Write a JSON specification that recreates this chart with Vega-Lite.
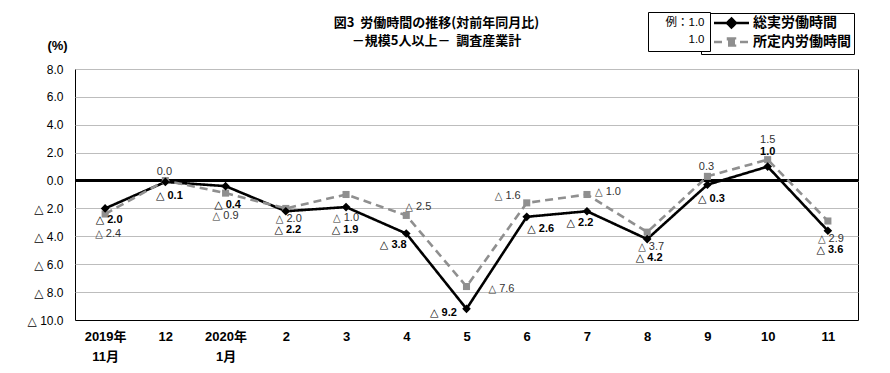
{
  "$schema": "https://vega.github.io/schema/vega-lite/v6.json",
  "autosize": {"type": "none"},
  "width": 783,
  "height": 251,
  "padding": {"left": 75, "top": 69, "right": 32, "bottom": 53},
  "background": "white",
  "title": {
    "text": ["図3\u00a0\u00a0労働時間の推移(対前年同月比)", "－規模5人以上－\u00a0\u00a0調査産業計"],
    "font": "Noto Sans CJK JP",
    "fontSize": 13,
    "fontWeight": "bold",
    "color": "#000",
    "anchor": "middle",
    "frame": "group",
    "dx": -30,
    "dy": 58,
    "offset": 22,
    "lineHeight": 18
  },
  "config": {
    "view": {"stroke": "#000", "strokeWidth": 1}
  },
  "data": {
    "values": [
      {"m": "2019年 11月", "s": "総実労働時間", "v": -2.0},
      {"m": "12", "s": "総実労働時間", "v": -0.1},
      {"m": "2020年 1月", "s": "総実労働時間", "v": -0.4},
      {"m": "2", "s": "総実労働時間", "v": -2.2},
      {"m": "3", "s": "総実労働時間", "v": -1.9},
      {"m": "4", "s": "総実労働時間", "v": -3.8},
      {"m": "5", "s": "総実労働時間", "v": -9.2},
      {"m": "6", "s": "総実労働時間", "v": -2.6},
      {"m": "7", "s": "総実労働時間", "v": -2.2},
      {"m": "8", "s": "総実労働時間", "v": -4.2},
      {"m": "9", "s": "総実労働時間", "v": -0.3},
      {"m": "10", "s": "総実労働時間", "v": 1.0},
      {"m": "11", "s": "総実労働時間", "v": -3.6},
      {"m": "2019年 11月", "s": "所定内労働時間", "v": -2.4},
      {"m": "12", "s": "所定内労働時間", "v": 0.0},
      {"m": "2020年 1月", "s": "所定内労働時間", "v": -0.9},
      {"m": "2", "s": "所定内労働時間", "v": -2.0},
      {"m": "3", "s": "所定内労働時間", "v": -1.0},
      {"m": "4", "s": "所定内労働時間", "v": -2.5},
      {"m": "5", "s": "所定内労働時間", "v": -7.6},
      {"m": "6", "s": "所定内労働時間", "v": -1.6},
      {"m": "7", "s": "所定内労働時間", "v": -1.0},
      {"m": "8", "s": "所定内労働時間", "v": -3.7},
      {"m": "9", "s": "所定内労働時間", "v": 0.3},
      {"m": "10", "s": "所定内労働時間", "v": 1.5},
      {"m": "11", "s": "所定内労働時間", "v": -2.9}
    ]
  },
  "transform": [
    {"calculate": "datum.v < 0 ? '△ ' + format(-datum.v, '.1f') : format(datum.v, '.1f')", "as": "t"}
  ],
  "layer": [
    {
      "mark": {"type": "rule", "color": "#000", "strokeWidth": 1.5},
      "encoding": {
        "y": {
          "datum": 0, "type": "quantitative", "title": "(%)",
          "scale": {"domain": [-10, 8], "nice": false, "zero": false},
          "axis": {
            "values": [-10, -8, -6, -4, -2, 0, 2, 4, 6, 8],
            "labelExpr": "datum.value < 0 ? '△ ' + format(-datum.value, '.1f') : format(datum.value, '.1f')",
            "grid": true, "gridColor": "#bdbdbd", "gridWidth": 1,
            "ticks": false, "domain": false,
            "labelPadding": 12, "labelFont": "Liberation Sans, DejaVu Sans", "labelFontSize": 12, "labelColor": "#000",
            "titleAngle": 0, "titleX": -18, "titleY": -24, "titleAlign": "center", "titleBaseline": "middle",
            "titleFont": "Liberation Sans", "titleFontSize": 13, "titleFontWeight": "bold", "titleColor": "#000"
          }
        }
      }
    },
    {
      "encoding": {
        "x": {
          "field": "m", "type": "ordinal", "title": null,
          "scale": {"domain": ["2019年 11月", "12", "2020年 1月", "2", "3", "4", "5", "6", "7", "8", "9", "10", "11"]},
          "axis": {
            "labelAngle": 0, "ticks": false, "domain": true, "domainColor": "#000", "domainWidth": 1.2,
            "grid": false,
            "labelExpr": "split(datum.value, ' ')",
            "labelFont": "Liberation Sans, Noto Sans CJK JP", "labelFontSize": 13, "labelFontWeight": "bold",
            "labelColor": "#000", "labelPadding": 10, "labelBaseline": "top", "labelLineHeight": 20
          }
        },
        "y": {
          "field": "v", "type": "quantitative", "title": "(%)",
          "scale": {"domain": [-10, 8], "nice": false, "zero": false},
          "axis": {
            "values": [-10, -8, -6, -4, -2, 0, 2, 4, 6, 8],
            "labelExpr": "datum.value < 0 ? '△ ' + format(-datum.value, '.1f') : format(datum.value, '.1f')",
            "grid": true, "gridColor": "#bdbdbd", "gridWidth": 1,
            "ticks": false, "domain": false,
            "labelPadding": 12, "labelFont": "Liberation Sans, DejaVu Sans", "labelFontSize": 12, "labelColor": "#000",
            "titleAngle": 0, "titleX": -18, "titleY": -24, "titleAlign": "center", "titleBaseline": "middle",
            "titleFont": "Liberation Sans", "titleFontSize": 13, "titleFontWeight": "bold", "titleColor": "#000"
          }
        }
      },
      "layer": [
        {
          "mark": {"type": "line", "strokeWidth": 2.6},
          "encoding": {
            "color": {
              "field": "s", "type": "nominal",
              "scale": {"domain": ["総実労働時間", "所定内労働時間"], "range": ["#000000", "#8f8f8f"]},
              "legend": {
                "orient": "none", "legendX": 626, "legendY": -56, "title": null,
                "strokeColor": "#000", "fillColor": "#fff", "padding": 3, "rowPadding": 0,
                "labelFont": "Noto Sans CJK JP", "labelFontSize": 14, "labelFontWeight": "bold", "labelColor": "#000",
                "symbolSize": 100, "labelOffset": 35,
                "encode": {
                  "symbols": {
                    "update": {
                      "shape": {"signal": "datum.value === '総実労働時間' ? 'M0.6,0H7.6M4.1,-0.9L5,0L4.1,0.9L3.2,0Z' : 'M0.6,0H2.4M5.8,0H7.6M3.4,-0.7H4.8V0.7H3.4Z'"},
                      "fill": {"signal": "datum.value === '総実労働時間' ? '#000' : '#8f8f8f'"},
                      "stroke": {"signal": "datum.value === '総実労働時間' ? '#000' : '#8f8f8f'"},
                      "strokeWidth": {"value": 2.5},
                      "opacity": {"value": 1}
                    }
                  }
                }
              }
            },
            "strokeDash": {
              "field": "s", "type": "nominal",
              "scale": {"domain": ["総実労働時間", "所定内労働時間"], "range": [[1, 0], [8, 5]]},
              "legend": null
            }
          }
        },
        {
          "transform": [{"filter": "datum.s === '所定内労働時間'"}],
          "mark": {"type": "point", "shape": "square", "filled": true, "size": 50, "color": "#8f8f8f", "opacity": 1}
        },
        {
          "transform": [{"filter": "datum.s === '総実労働時間'"}],
          "mark": {"type": "point", "shape": "diamond", "filled": true, "size": 75, "color": "#000", "opacity": 1}
        },
        {
          "transform": [{"filter": "datum.s === '総実労働時間' && datum.m === '2019年 11月'"}],
          "mark": {"type": "text", "font": "Liberation Sans, DejaVu Sans", "fontSize": 11, "fontWeight": "bold", "color": "#000", "dx": 4, "dy": 12},
          "encoding": {"text": {"field": "t"}}
        },
        {
          "transform": [{"filter": "datum.s === '総実労働時間' && indexof(['12','9'], datum.m) >= 0"}],
          "mark": {"type": "text", "font": "Liberation Sans, DejaVu Sans", "fontSize": 11, "fontWeight": "bold", "color": "#000", "dx": 4, "dy": 14},
          "encoding": {"text": {"field": "t"}}
        },
        {
          "transform": [{"filter": "datum.s === '総実労働時間' && indexof(['2020年 1月','2','8','11'], datum.m) >= 0"}],
          "mark": {"type": "text", "font": "Liberation Sans, DejaVu Sans", "fontSize": 11, "fontWeight": "bold", "color": "#000", "dx": 2, "dy": 19},
          "encoding": {"text": {"field": "t"}}
        },
        {
          "transform": [{"filter": "datum.s === '総実労働時間' && datum.m === '3'"}],
          "mark": {"type": "text", "font": "Liberation Sans, DejaVu Sans", "fontSize": 11, "fontWeight": "bold", "color": "#000", "dx": -1, "dy": 23},
          "encoding": {"text": {"field": "t"}}
        },
        {
          "transform": [{"filter": "datum.s === '総実労働時間' && datum.m === '10'"}],
          "mark": {"type": "text", "font": "Liberation Sans, DejaVu Sans", "fontSize": 11, "fontWeight": "bold", "color": "#000", "dx": 0, "dy": -15},
          "encoding": {"text": {"field": "t"}}
        },
        {
          "transform": [{"filter": "datum.s === '総実労働時間' && datum.m === '4'"}],
          "mark": {"type": "text", "font": "Liberation Sans, DejaVu Sans", "fontSize": 11, "fontWeight": "bold", "color": "#000", "dx": -13, "dy": 11},
          "encoding": {"text": {"field": "t"}}
        },
        {
          "transform": [{"filter": "datum.s === '総実労働時間' && datum.m === '5'"}],
          "mark": {"type": "text", "font": "Liberation Sans, DejaVu Sans", "fontSize": 11, "fontWeight": "bold", "color": "#000", "dx": -23, "dy": 4},
          "encoding": {"text": {"field": "t"}}
        },
        {
          "transform": [{"filter": "datum.s === '総実労働時間' && datum.m === '6'"}],
          "mark": {"type": "text", "font": "Liberation Sans, DejaVu Sans", "fontSize": 11, "fontWeight": "bold", "color": "#000", "dx": 14, "dy": 12},
          "encoding": {"text": {"field": "t"}}
        },
        {
          "transform": [{"filter": "datum.s === '総実労働時間' && datum.m === '7'"}],
          "mark": {"type": "text", "font": "Liberation Sans, DejaVu Sans", "fontSize": 11, "fontWeight": "bold", "color": "#000", "dx": -7, "dy": 12},
          "encoding": {"text": {"field": "t"}}
        },
        {
          "transform": [{"filter": "datum.s === '所定内労働時間' && datum.m === '2019年 11月'"}],
          "mark": {"type": "text", "font": "Liberation Sans Narrow, Liberation Sans, DejaVu Sans Condensed", "fontSize": 11, "color": "#333", "dx": 3, "dy": 20},
          "encoding": {"text": {"field": "t"}}
        },
        {
          "transform": [{"filter": "datum.s === '所定内労働時間' && datum.m === '11'"}],
          "mark": {"type": "text", "font": "Liberation Sans Narrow, Liberation Sans, DejaVu Sans Condensed", "fontSize": 11, "color": "#333", "dx": 3, "dy": 18},
          "encoding": {"text": {"field": "t"}}
        },
        {
          "transform": [{"filter": "datum.s === '所定内労働時間' && datum.m === '8'"}],
          "mark": {"type": "text", "font": "Liberation Sans Narrow, Liberation Sans, DejaVu Sans Condensed", "fontSize": 11, "color": "#333", "dx": 4, "dy": 15},
          "encoding": {"text": {"field": "t"}}
        },
        {
          "transform": [{"filter": "datum.s === '所定内労働時間' && indexof(['12','9'], datum.m) >= 0"}],
          "mark": {"type": "text", "font": "Liberation Sans Narrow, Liberation Sans, DejaVu Sans Condensed", "fontSize": 11, "color": "#333", "dx": -1, "dy": -9},
          "encoding": {"text": {"field": "t"}}
        },
        {
          "transform": [{"filter": "datum.s === '所定内労働時間' && datum.m === '10'"}],
          "mark": {"type": "text", "font": "Liberation Sans Narrow, Liberation Sans, DejaVu Sans Condensed", "fontSize": 11, "color": "#333", "dx": 0, "dy": -20},
          "encoding": {"text": {"field": "t"}}
        },
        {
          "transform": [{"filter": "datum.s === '所定内労働時間' && indexof(['2020年 1月','3'], datum.m) >= 0"}],
          "mark": {"type": "text", "font": "Liberation Sans Narrow, Liberation Sans, DejaVu Sans Condensed", "fontSize": 11, "color": "#333", "dx": 0, "dy": 23},
          "encoding": {"text": {"field": "t"}}
        },
        {
          "transform": [{"filter": "datum.s === '所定内労働時間' && datum.m === '2'"}],
          "mark": {"type": "text", "font": "Liberation Sans Narrow, Liberation Sans, DejaVu Sans Condensed", "fontSize": 11, "color": "#333", "dx": 3, "dy": 11},
          "encoding": {"text": {"field": "t"}}
        },
        {
          "transform": [{"filter": "datum.s === '所定内労働時間' && datum.m === '4'"}],
          "mark": {"type": "text", "font": "Liberation Sans Narrow, Liberation Sans, DejaVu Sans Condensed", "fontSize": 11, "color": "#333", "dx": 12, "dy": -8},
          "encoding": {"text": {"field": "t"}}
        },
        {
          "transform": [{"filter": "datum.s === '所定内労働時間' && datum.m === '5'"}],
          "mark": {"type": "text", "font": "Liberation Sans Narrow, Liberation Sans, DejaVu Sans Condensed", "fontSize": 11, "color": "#333", "dx": 35, "dy": 2},
          "encoding": {"text": {"field": "t"}}
        },
        {
          "transform": [{"filter": "datum.s === '所定内労働時間' && datum.m === '6'"}],
          "mark": {"type": "text", "font": "Liberation Sans Narrow, Liberation Sans, DejaVu Sans Condensed", "fontSize": 11, "color": "#333", "dx": -19, "dy": -7},
          "encoding": {"text": {"field": "t"}}
        },
        {
          "transform": [{"filter": "datum.s === '所定内労働時間' && datum.m === '7'"}],
          "mark": {"type": "text", "font": "Liberation Sans Narrow, Liberation Sans, DejaVu Sans Condensed", "fontSize": 11, "color": "#333", "dx": 21, "dy": -3},
          "encoding": {"text": {"field": "t"}}
        },
        {
          "transform": [{"filter": "datum.s === '総実労働時間' && datum.m === '10'"}],
          "mark": {"type": "point", "opacity": 0},
          "encoding": {
            "shape": {
              "field": "s", "type": "nominal",
              "scale": {"domain": ["例：1.0", "1.0"], "range": ["circle", "circle"]},
              "legend": {
                "orient": "none", "legendX": 573, "legendY": -57, "title": null,
                "strokeColor": "#000", "fillColor": "#fff", "padding": 5, "rowPadding": 4,
                "symbolSize": 0, "symbolOpacity": 0, "labelOffset": 40, "labelAlign": "right",
                "labelFont": "Liberation Sans, Noto Sans CJK JP", "labelFontSize": 11.5, "labelColor": "#000"
              }
            }
          }
        }
      ]
    }
  ]
}
